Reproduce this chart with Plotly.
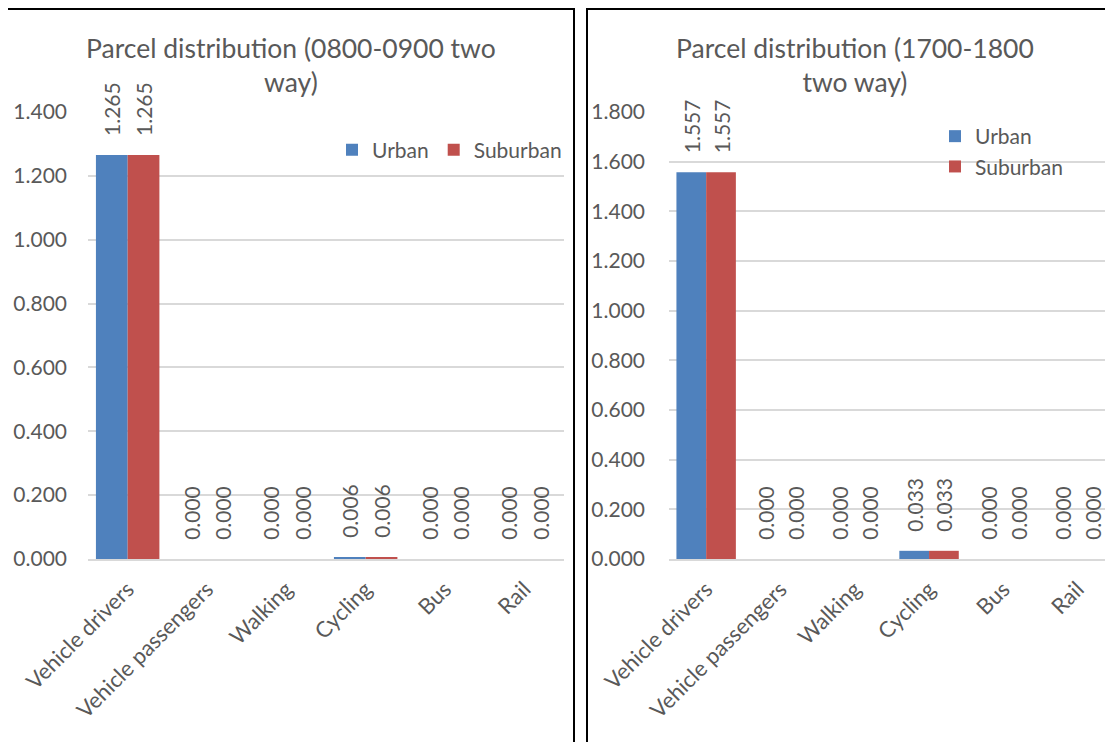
"""
Parcel distribution by mode, morning and evening peak (two way).
"""

import plotly.graph_objects as go

# Data
modes = ["Vehicle drivers", "Vehicle passengers", "Walking", "Cycling", "Bus", "Rail"]
am_urban = [1.265, 0.000, 0.000, 0.006, 0.000, 0.000]
am_suburban = [1.265, 0.000, 0.000, 0.006, 0.000, 0.000]
pm_urban = [1.557, 0.000, 0.000, 0.033, 0.000, 0.000]
pm_suburban = [1.557, 0.000, 0.000, 0.033, 0.000, 0.000]

am_ticks = [0.0, 0.2, 0.4, 0.6, 0.8, 1.0, 1.2, 1.4]
pm_ticks = [0.0, 0.2, 0.4, 0.6, 0.8, 1.0, 1.2, 1.4, 1.6, 1.8]

# zero-width non-joiner keeps Lato from drawing the "ti" ligature
am_title = "Parcel distribu\u200ction (0800-0900 two<br>way)"
pm_title = "Parcel distribu\u200ction (1700-1800<br>two way)"

# Styling
URBAN = "#4F81BD"
SUBURBAN = "#C0504D"
GREY_TEXT = "#595959"
GRID = "#D9D9D9"
FONT = "Lato"

W, H = 1113, 742
OFF = 8  # page body margin of the html output


def px_x(x):
    return (x - OFF) / W


def px_y(y):
    return (H - (y - OFF)) / H


def bar(name, x, y, color, xaxis, yaxis, legend):
    return go.Bar(
        name=name,
        x=x, y=y,
        marker_color=color,
        marker_line_width=0,
        xaxis=xaxis, yaxis=yaxis,
        legend=legend,
        texttemplate="\u00a0\u00a0\u00a0%{y:.3f}",
        textposition="outside",
        textangle=-90,
        constraintext="none",
        cliponaxis=False,
        textfont=dict(family=FONT, size=21, color=GREY_TEXT),
    )


fig = go.Figure()
fig.add_trace(bar("Urban", modes, am_urban, URBAN, "x", "y", "legend"))
fig.add_trace(bar("Suburban", modes, am_suburban, SUBURBAN, "x", "y", "legend"))
fig.add_trace(bar("Urban", modes, pm_urban, URBAN, "x2", "y2", "legend2"))
fig.add_trace(bar("Suburban", modes, pm_suburban, SUBURBAN, "x2", "y2", "legend2"))

y_dom = [px_y(559), px_y(112)]
tick_font = dict(family=FONT, size=21, color=GREY_TEXT)

xaxis_common = dict(
    type="category",
    tickangle=-45,
    tickfont=dict(tick_font, size=22),
    ticklabelstandoff=7,
    showgrid=False,
    showline=True,
    linecolor=GRID,
    linewidth=1.5,
    ticks="",
    automargin=False,
    fixedrange=True,
)
yaxis_common = dict(
    tickfont=tick_font,
    tickformat=".3f",
    showgrid=True,
    gridcolor=GRID,
    gridwidth=1.5,
    zeroline=False,
    showline=False,
    ticks="",
    automargin=False,
    fixedrange=True,
)

right_end = W + OFF  # right plot runs off the page edge
fig.update_layout(
    width=W, height=H,
    margin=dict(l=0, r=0, t=0, b=0, autoexpand=False),
    paper_bgcolor="white",
    plot_bgcolor="white",
    font=dict(family=FONT, color=GREY_TEXT),
    barmode="group",
    bargap=0.2,
    bargroupgap=0,
    xaxis=dict(xaxis_common, domain=[px_x(88), px_x(564)], anchor="y",
               range=[-0.5, 5.5]),
    yaxis=dict(yaxis_common, domain=y_dom, anchor="x", range=[0, 1.4],
               tickvals=am_ticks, ticklabelstandoff=20),
    xaxis2=dict(xaxis_common, domain=[px_x(669), 1.0], anchor="y2",
                range=[-0.5, -0.5 + (right_end - 669) / 74.3]),
    yaxis2=dict(yaxis_common, domain=y_dom, anchor="x2", range=[0, 1.8],
                tickvals=pm_ticks, ticklabelstandoff=23),
    legend=dict(
        orientation="h",
        x=px_x(332), y=px_y(150), xanchor="left", yanchor="middle",
        font=dict(family=FONT, size=21, color=GREY_TEXT),
        bgcolor="rgba(0,0,0,0)",
        itemwidth=30,
        tracegroupgap=0,
    ),
    legend2=dict(
        orientation="v",
        x=px_x(935), y=px_y(116), xanchor="left", yanchor="top",
        font=dict(family=FONT, size=21, color=GREY_TEXT),
        bgcolor="rgba(0,0,0,0)",
        itemwidth=30,
        tracegroupgap=0,
    ),
    showlegend=True,
)

# Panel titles
for text, cx in [(am_title, 291), (pm_title, 855)]:
    fig.add_annotation(
        text=text, xref="paper", yref="paper",
        x=px_x(cx), y=px_y(30), xanchor="center", yanchor="top",
        showarrow=False, align="center",
        font=dict(family=FONT, size=26.5, color=GREY_TEXT),
    )

# Panel borders
for x0, x1 in [(7, 574), (587, W + 40)]:
    fig.add_shape(
        type="rect", xref="paper", yref="paper",
        x0=px_x(x0), x1=px_x(x1), y0=-0.1, y1=px_y(9),
        line=dict(color="black", width=2),
        fillcolor="rgba(0,0,0,0)",
        layer="above",
    )

fig.write_html("out.html")
